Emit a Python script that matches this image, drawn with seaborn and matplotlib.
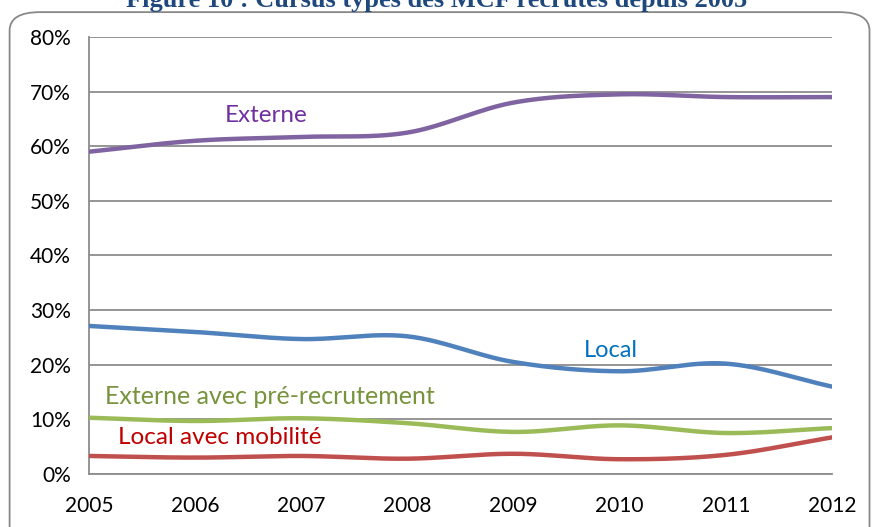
import numpy as np
import matplotlib
matplotlib.use("Agg")
import matplotlib.pyplot as plt
from matplotlib.patches import FancyBboxPatch
from matplotlib.ticker import PercentFormatter
import seaborn as sns

years = [2005, 2006, 2007, 2008, 2009, 2010, 2011, 2012]
externe = [59.0, 61.0, 61.7, 62.5, 68.0, 69.5, 69.0, 69.0]
local = [27.1, 26.0, 24.7, 25.2, 20.5, 18.8, 20.2, 16.0]
externe_pre = [10.3, 9.7, 10.2, 9.3, 7.7, 8.9, 7.5, 8.4]
local_mob = [3.3, 3.0, 3.3, 2.8, 3.7, 2.7, 3.5, 6.7]

series_names = ["Externe", "Local", "Externe avec pré-recrutement", "Local avec mobilité"]
series_values = [externe, local, externe_pre, local_mob]
line_colors = ["#8064A2", "#4F81BD", "#9BBB59", "#C0504D"]
label_colors = ["#7030A0", "#0070C0", "#77933C", "#C00000"]


def smooth(x, y, n=30):
    # Catmull-Rom spline through the points, like Excel's smoothed lines
    x = np.asarray(x, float)
    y = np.asarray(y, float)
    px = np.concatenate([[2 * x[0] - x[1]], x, [2 * x[-1] - x[-2]]])
    py = np.concatenate([[2 * y[0] - y[1]], y, [2 * y[-1] - y[-2]]])
    xs, ys = [], []
    t = np.linspace(0, 1, n, endpoint=False)
    for i in range(1, len(px) - 2):
        for p, out in ((px, xs), (py, ys)):
            p0, p1, p2, p3 = p[i - 1], p[i], p[i + 1], p[i + 2]
            out.append(0.5 * (2 * p1 + (-p0 + p2) * t
                              + (2 * p0 - 5 * p1 + 4 * p2 - p3) * t ** 2
                              + (-p0 + 3 * p1 - 3 * p2 + p3) * t ** 3))
    xs.append([x[-1]])
    ys.append([y[-1]])
    return np.concatenate(xs), np.concatenate(ys)


sns.set_style("white")
plt.rcParams["font.family"] = ["Lato", "DejaVu Sans"]

fig = plt.figure(figsize=(8.73, 5.27), dpi=100)
ax = fig.add_axes([0.102, 0.1006, 0.851, 0.8292])

for vals, col in zip(series_values, line_colors):
    sx, sy = smooth(years, vals)
    sns.lineplot(x=sx, y=sy, ax=ax, color=col, linewidth=3.2, sort=False,
                 solid_capstyle="round", zorder=3)

ax.set_xlim(2005, 2012)
ax.set_ylim(0, 80)
ax.set_yticks(np.arange(0, 81, 10))
ax.set_xticks(years)
ax.yaxis.set_major_formatter(PercentFormatter(decimals=0))
ax.grid(axis="y", color="#8c8c8c", linewidth=1.3, zorder=1)
ax.grid(axis="x", visible=False)
for s in ["top", "right"]:
    ax.spines[s].set_visible(False)
for s in ["left", "bottom"]:
    ax.spines[s].set_color("#8c8c8c")
    ax.spines[s].set_linewidth(1.3)
ax.tick_params(axis="both", direction="out", length=7, width=1.3,
               color="#8c8c8c", labelsize=15, labelcolor="black")
ax.tick_params(axis="y", pad=6)
ax.tick_params(axis="x", pad=9)

ax.text(2006.67, 65.6, series_names[0], color=label_colors[0], fontsize=17.5, ha="center", va="center")
ax.text(2009.92, 22.6, series_names[1], color=label_colors[1], fontsize=17, ha="center", va="center")
ax.text(2005.15, 14.1, series_names[2], color=label_colors[2], fontsize=18, ha="left", va="center")
ax.text(2005.27, 6.6, series_names[3], color=label_colors[3], fontsize=17.5, ha="left", va="center")

border = FancyBboxPatch((0.011, -0.05), 0.985, 1.027, transform=fig.transFigure,
                        boxstyle="round,pad=0,rounding_size=0.035",
                        facecolor="none", edgecolor="#888888", linewidth=1.3)
fig.patches.append(border)

# title is cut off at the top of the picture in the original
fig.text(0.5, 0.987, "Figure 10 : Cursus types des MCF recrutés depuis 2005",
         family="Liberation Serif", weight="bold", fontsize=19, color="#1F497D",
         ha="center", va="baseline")

fig.savefig("out.png", dpi=100)
